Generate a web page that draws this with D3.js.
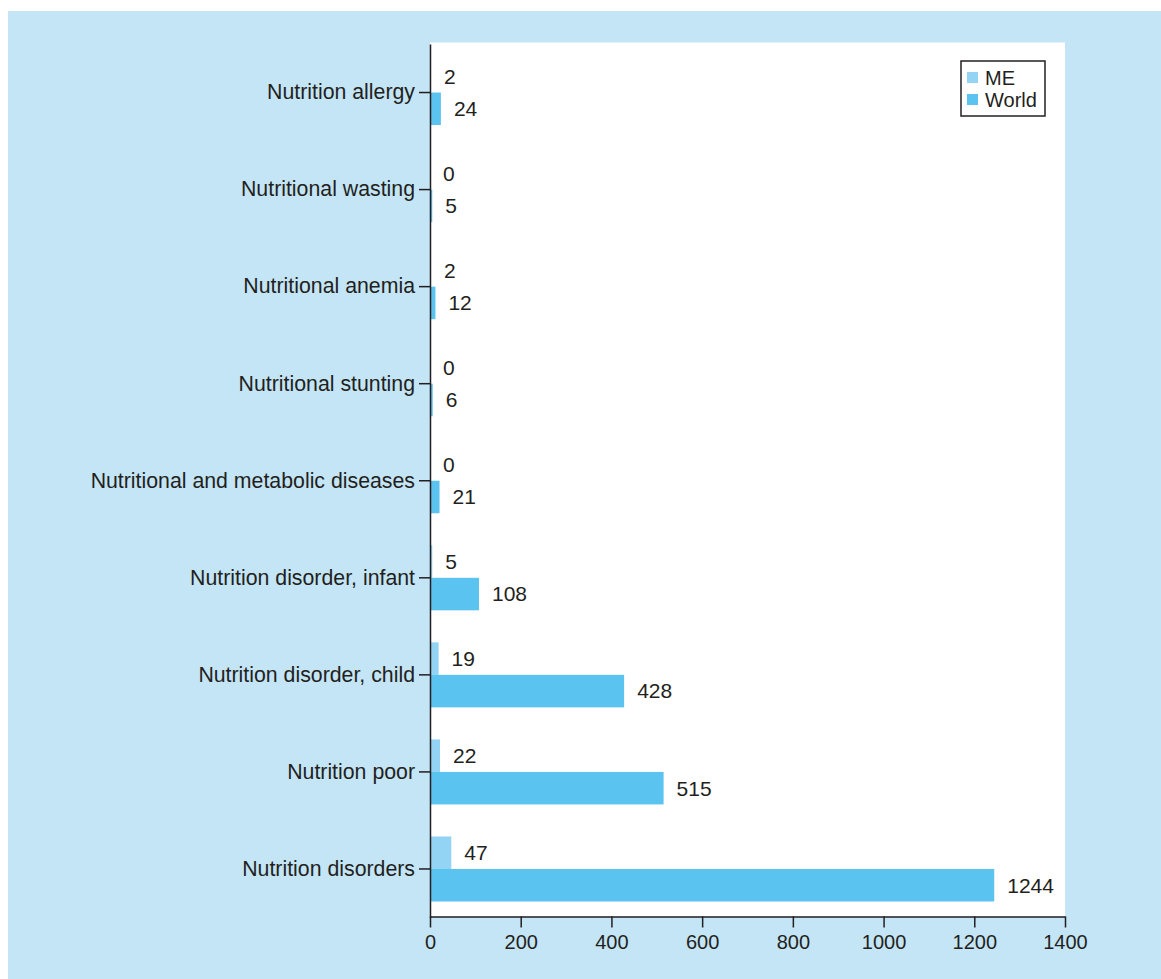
<!DOCTYPE html>
<html>
<head>
<meta charset="utf-8">
<script src="https://cdn.jsdelivr.net/npm/d3@7"></script>
<style>
  body { margin: 0; background: #fff; }
  text { font-family: "Liberation Sans", Arial, sans-serif; fill: #231f20; }
</style>
</head>
<body>
<svg id="chart"></svg>
<script>
// Data (top to bottom)
const categories = [
  "Nutrition allergy",
  "Nutritional wasting",
  "Nutritional anemia",
  "Nutritional stunting",
  "Nutritional and metabolic diseases",
  "Nutrition disorder, infant",
  "Nutrition disorder, child",
  "Nutrition poor",
  "Nutrition disorders"
];
const seriesNames = ["ME", "World"];
const meValues = [2, 0, 2, 0, 0, 5, 19, 22, 47];
const worldValues = [24, 5, 12, 6, 21, 108, 428, 515, 1244];
const xTicks = [0, 200, 400, 600, 800, 1000, 1200, 1400];

const colors = { ME: "#93d3f3", World: "#5bc3f0" };
const ink = "#231f20";

const width = 1161;
const height = 979;
const plot = { left: 430, right: 1065, top: 42.5, bottom: 916.5 };

const svg = d3.select("#chart")
    .attr("width", width)
    .attr("height", height);

// Light blue panel
svg.append("rect")
    .attr("x", 8).attr("y", 11)
    .attr("width", width - 8).attr("height", height - 11)
    .attr("fill", "#c3e5f6");

// White plot area
svg.append("rect")
    .attr("x", plot.left).attr("y", plot.top)
    .attr("width", plot.right - plot.left)
    .attr("height", plot.bottom - plot.top)
    .attr("fill", "#fff");

// Scales
const x = d3.scaleLinear()
    .domain([0, 1400])
    .range([plot.left, plot.right]);

const y = d3.scaleBand()
    .domain(categories)
    .range([44, 917.5]);

const sub = d3.scaleBand()
    .domain(seriesNames)
    .range([y.bandwidth() * 0.165, y.bandwidth() * 0.835]);

const rows = categories.map((c, i) => ({
  category: c,
  values: [
    { key: "ME", value: meValues[i] },
    { key: "World", value: worldValues[i] }
  ]
}));

// Bars
const groups = svg.selectAll("g.row")
    .data(rows)
    .enter()
    .append("g")
    .attr("class", "row")
    .attr("transform", d => `translate(0, ${y(d.category)})`);

groups.selectAll("rect")
    .data(d => d.values)
    .enter()
    .append("rect")
    .attr("x", x(0))
    .attr("y", d => sub(d.key))
    .attr("width", d => x(d.value) - x(0))
    .attr("height", sub.bandwidth())
    .attr("fill", d => colors[d.key]);

// Value labels
groups.selectAll("text.val")
    .data(d => d.values)
    .enter()
    .append("text")
    .attr("class", "val")
    .attr("x", d => x(d.value) + 13)
    .attr("y", d => sub(d.key) + sub.bandwidth() / 2)
    .attr("dy", "0.35em")
    .style("font-size", "21px")
    .text(d => d.value);

// Axes
const yAxis = svg.append("g")
    .attr("transform", `translate(${plot.left}, 0)`)
    .call(d3.axisLeft(y).tickSize(11).tickSizeOuter(0).tickPadding(4));
yAxis.selectAll("text").style("font-size", "21.3px").attr("fill", ink);

const xAxis = svg.append("g")
    .attr("transform", `translate(0, ${plot.bottom})`)
    .call(d3.axisBottom(x).tickValues(xTicks).tickFormat(d3.format("d"))
      .tickSize(11).tickSizeOuter(0).tickPadding(7));
xAxis.selectAll("text").style("font-size", "20px").attr("fill", ink);

svg.selectAll(".domain, .tick line")
    .attr("stroke", ink)
    .attr("stroke-width", 1.5);

// Legend
const legend = svg.append("g").attr("transform", "translate(961, 61)");
legend.append("rect")
    .attr("width", 84).attr("height", 55)
    .attr("fill", "#fff")
    .attr("stroke", ink)
    .attr("stroke-width", 1.5);

const items = legend.selectAll("g")
    .data(seriesNames)
    .enter()
    .append("g")
    .attr("transform", (d, i) => `translate(6, ${11 + i * 22})`);

items.append("rect")
    .attr("width", 11).attr("height", 11)
    .attr("fill", d => colors[d]);

items.append("text")
    .attr("x", 18)
    .attr("y", 5.5)
    .attr("dy", "0.35em")
    .style("font-size", "20px")
    .text(d => d);
</script>
</body>
</html>
